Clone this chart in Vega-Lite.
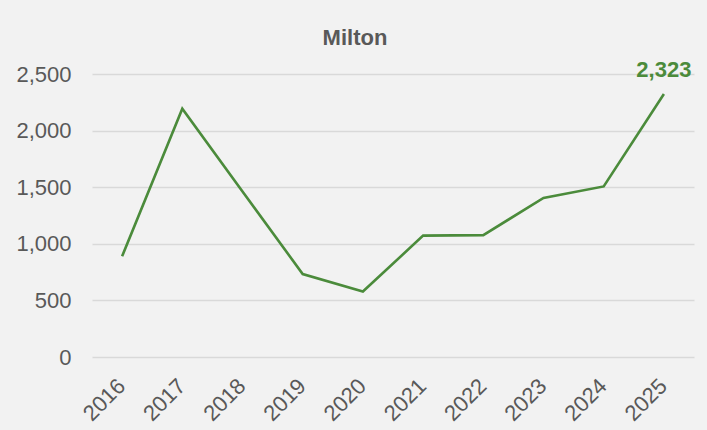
{
  "$schema": "https://vega.github.io/schema/vega-lite/v6.json",
  "width": 602,
  "height": 283,
  "autosize": {"type": "none"},
  "padding": {"left": 92, "top": 74, "right": 13, "bottom": 73},
  "background": "#f2f2f2",
  "config": {
    "view": {"stroke": null},
    "font": "Liberation Sans"
  },
  "title": {
    "text": "Milton",
    "fontSize": 22,
    "font": "Liberation Sans",
    "fontWeight": "bold",
    "color": "#595959",
    "anchor": "middle",
    "frame": "bounds",
    "baseline": "alphabetic",
    "offset": -8
  },
  "data": {
    "values": [
      {"year": "2016", "value": 889},
      {"year": "2017", "value": 2193},
      {"year": "2018", "value": 1462},
      {"year": "2019", "value": 733},
      {"year": "2020", "value": 578},
      {"year": "2021", "value": 1072},
      {"year": "2022", "value": 1077},
      {"year": "2023", "value": 1405},
      {"year": "2024", "value": 1507},
      {"year": "2025", "value": 2323}
    ]
  },
  "encoding": {
    "x": {
      "field": "year",
      "type": "ordinal",
      "axis": {
        "title": null,
        "labelAngle": -45,
        "labelFontSize": 22,
        "labelFont": "Liberation Sans",
        "labelColor": "#595959",
        "domain": false,
        "ticks": false,
        "tickSize": 0,
        "labelPadding": 18,
        "labelOffset": -8,
        "grid": false
      }
    },
    "y": {
      "field": "value",
      "type": "quantitative",
      "scale": {"domain": [0, 2500], "nice": false},
      "axis": {
        "title": null,
        "values": [0, 500, 1000, 1500, 2000, 2500],
        "format": ",.0f",
        "labelFontSize": 22,
        "labelFont": "Liberation Sans",
        "labelColor": "#595959",
        "domain": false,
        "ticks": false,
        "tickSize": 0,
        "labelPadding": 21,
        "grid": true,
        "gridColor": "#d9d9d9",
        "gridWidth": 1.3
      }
    }
  },
  "layer": [
    {
      "mark": {"type": "line", "color": "#4b8b3b", "strokeWidth": 2.6}
    },
    {
      "transform": [{"filter": "datum.year == '2025'"}],
      "mark": {
        "type": "text",
        "color": "#4b8b3b",
        "fontSize": 22,
        "fontWeight": "bold",
        "font": "Liberation Sans",
        "align": "center",
        "baseline": "alphabetic",
        "dy": -17
      },
      "encoding": {
        "text": {"field": "value", "type": "quantitative", "format": ","}
      }
    }
  ]
}
